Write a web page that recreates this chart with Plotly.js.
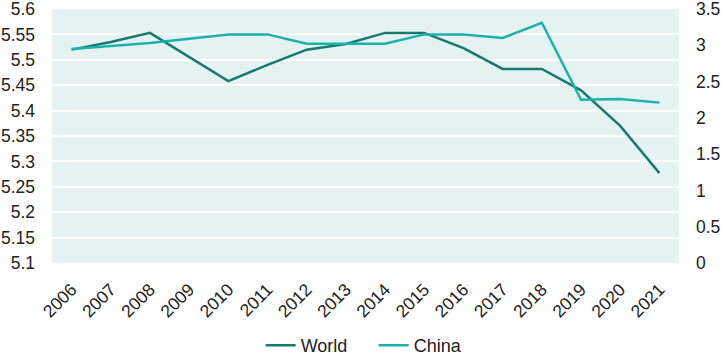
<!DOCTYPE html>
<html>
<head>
<meta charset="utf-8">
<script src="https://cdn.plot.ly/plotly-3.0.1.min.js"></script>
<style>html,body{margin:0;padding:0;background:#fff;}#chart{width:721px;height:357px;}</style>
</head>
<body>
<div id="chart"></div>
<script>
const years = ['2006','2007','2008','2009','2010','2011','2012','2013','2014','2015','2016','2017','2018','2019','2020','2021'];
const world = [5.52, 5.535, 5.553, 5.505, 5.458, 5.49, 5.52, 5.531, 5.553, 5.553, 5.523, 5.482, 5.482, 5.44, 5.37, 5.277];
const china = [2.95, 2.99, 3.03, 3.09, 3.15, 3.15, 3.02, 3.02, 3.02, 3.15, 3.15, 3.10, 3.31, 2.25, 2.26, 2.21];
const leftTicks = [5.1,5.15,5.2,5.25,5.3,5.35,5.4,5.45,5.5,5.55,5.6];
const rightTicks = [0,0.5,1,1.5,2,2.5,3,3.5];

const font = {family: 'Liberation Sans, Arial, sans-serif', size: 17.5, color: '#222'};
const legendFont = {family: 'Liberation Sans, Arial, sans-serif', size: 18, color: '#222'};
const traces = [
  {x: years, y: world, name: 'World', type: 'scatter', mode: 'lines', line: {color: '#177a6f', width: 2.5}, yaxis: 'y'},
  {x: years, y: china, name: 'China', type: 'scatter', mode: 'lines', line: {color: '#1cb1ad', width: 2.5}, yaxis: 'y2'}
];
const layout = {
  width: 721, height: 357,
  margin: {l: 52, r: 42, t: 9, b: 94, autoexpand: false},
  paper_bgcolor: '#ffffff',
  plot_bgcolor: '#e4f2f1',
  font: font,
  showlegend: true,
  legend: {orientation: 'h', x: 0.513, xanchor: 'center', y: -0.252, yanchor: 'top', font: legendFont, bgcolor: 'rgba(0,0,0,0)', entrywidth: 68, entrywidthmode: 'pixels'},
  xaxis: {type: 'category', range: [-0.5, 15.5], automargin: false, tickangle: -45, showgrid: false, zeroline: false, showline: false, ticks: '', tickfont: font, ticklabelstandoff: 12, ticklabeloverflow: 'allow', fixedrange: true},
  yaxis: {range: [5.1, 5.6], automargin: false, tickvals: leftTicks, ticktext: leftTicks.map(String), showgrid: true, gridcolor: '#ffffff', gridwidth: 2, zeroline: false, showline: false, ticks: '', tickfont: font, ticklabelstandoff: 16, ticklabeloverflow: 'allow'},
  yaxis2: {range: [0, 3.5], automargin: false, tickvals: rightTicks, ticktext: rightTicks.map(String), overlaying: 'y', side: 'right', showgrid: false, zeroline: false, showline: false, ticks: '', tickfont: font, ticklabelstandoff: 16, ticklabeloverflow: 'allow'}
};
Plotly.newPlot('chart', traces, layout, {displayModeBar: false, staticPlot: true});
</script>
</body>
</html>
